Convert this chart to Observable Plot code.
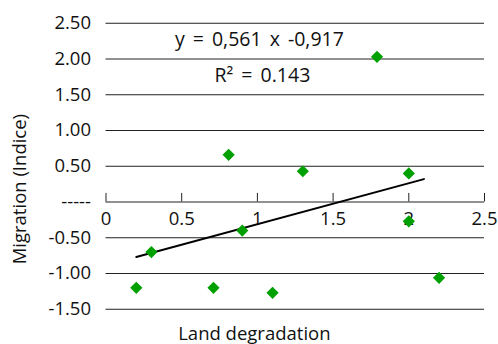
<!DOCTYPE html>
<html>
<head>
<meta charset="utf-8">
<script src="https://cdn.jsdelivr.net/npm/d3@7"></script>
<script src="https://cdn.jsdelivr.net/npm/@observablehq/plot@0.6"></script>
<style>
  html, body { margin: 0; padding: 0; background: #fff; }
  #chart { width: 498px; height: 344px; }
</style>
</head>
<body>
<div id="chart"></div>
<script>
const landDegradation = [0.20, 0.30, 0.71, 0.81, 0.90, 1.10, 1.30, 1.79, 2.00, 2.00, 2.20];
const migration       = [-1.20, -0.70, -1.20, 0.66, -0.40, -1.27, 0.43, 2.03, 0.40, -0.27, -1.06];
const trendX = [0.20, 2.10];
const trendY = [-0.77, 0.32];
const xTicks = [0, 0.5, 1, 1.5, 2, 2.5];
const xTickLabels = ["0", "0.5", "1", "1.5", "2", "2.5"];
const yTicks = [-1.5, -1, -0.5, 0, 0.5, 1, 1.5, 2, 2.5];
const yTickLabels = ["-1.50", "-1.00", "-0.50", "-----", "0.50", "1.00", "1.50", "2.00", "2.50"];
const equationText = "y = 0,561 x -0,917";
const r2Text = "R² = 0.143";
const xLabel = "Land degradation";
const yLabel = "Migration (Indice)";

const points = landDegradation.map((x, i) => ({x, y: migration[i]}));
const trend = trendX.map((x, i) => ({x, y: trendY[i]}));
const font = "'Open Sans', sans-serif";
const fs = 18.5;

const chart = Plot.plot({
  width: 498,
  height: 344,
  marginLeft: 105.5,
  marginRight: 14,
  marginTop: 22.75,
  marginBottom: 35.25,
  style: {fontFamily: font, fontSize: fs + "px", color: "#111", background: "#fff", overflow: "visible"},
  x: {domain: [0, 2.5], axis: null},
  y: {domain: [-1.5, 2.5], axis: null},
  marks: [
    Plot.ruleY(yTicks, {y: d => d, stroke: "#222", strokeWidth: 1}),
    Plot.axisY(yTicks, {
      tickSize: 0, tickPadding: 15,
      tickFormat: d => yTickLabels[yTicks.indexOf(d)],
      fontSize: fs, label: null, fill: "#111"
    }),
    Plot.ruleX(xTicks, {x: d => d, y1: 0, y2: 0.12, stroke: "#222", strokeWidth: 1}),
    Plot.text(xTicks, {x: d => d, y: 0, dy: 17, text: d => xTickLabels[xTicks.indexOf(d)], fontSize: fs, fill: "#111"}),
    Plot.line(trend, {x: "x", y: "y", stroke: "#000", strokeWidth: 2}),
    Plot.dot(points, {x: "x", y: "y", symbol: "diamond2", r: 5.5, fill: "#00a000", stroke: "none"}),
    Plot.text([equationText], {x: 1.013, y: 2.27, text: d => d, fontSize: 19.5, fill: "#111"}),
    Plot.text([r2Text], {x: 1.033, y: 1.77, text: d => d, fontSize: 19.5, fill: "#111"}),
    Plot.text([xLabel], {x: 0.98, y: -1.5, dy: 25, text: d => d, fontSize: fs, fill: "#111"}),
    Plot.text([yLabel], {frameAnchor: "left", textAnchor: "middle", y: 0.18, dx: -86, rotate: -90, text: d => d, fontSize: fs, fill: "#111"})
  ]
});
d3.select(chart).selectAll("text").filter(function() {
  const t = this.textContent;
  return t === equationText || t === r2Text;
}).style("word-spacing", "3px");
document.getElementById("chart").appendChild(chart);
</script>
</body>
</html>
